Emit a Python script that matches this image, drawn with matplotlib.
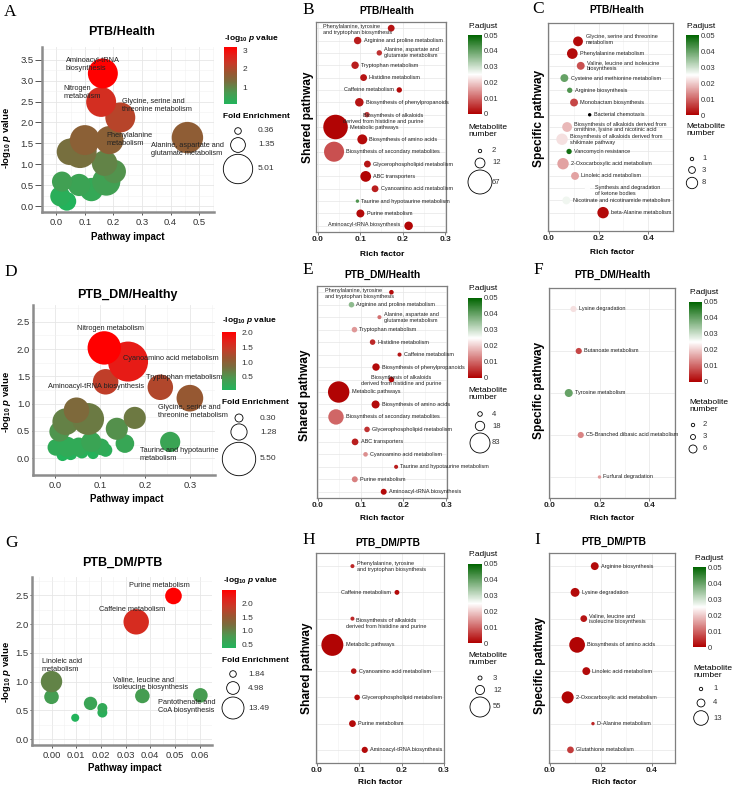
import numpy as np
import matplotlib
matplotlib.use("Agg")
import matplotlib.pyplot as plt
from matplotlib.cm import ScalarMappable
from matplotlib.colors import LinearSegmentedColormap, Normalize

plt.rcParams['font.family'] = ['Liberation Sans', 'DejaVu Sans']
plt.rcParams['mathtext.fontset'] = 'custom'
plt.rcParams['mathtext.rm'] = 'Liberation Sans'
plt.rcParams['mathtext.it'] = 'Liberation Sans:italic:bold'
plt.rcParams['mathtext.bf'] = 'Liberation Sans:bold'
plt.rcParams['mathtext.default'] = 'regular'

W, H = 735, 786

# ---------------- data: topology panels (pathway impact vs -log10 p) ----------------
a_impact = [0.163, 0.157, 0.224, 0.186, 0.459, 0.100, 0.083, 0.048, 0.169, 0.203, 0.175, 0.123, 0.080, 0.020, 0.014, 0.037]
a_logp = [3.17, 2.49, 2.12, 1.58, 1.64, 1.58, 1.31, 1.30, 1.03, 0.83, 0.59, 0.40, 0.51, 0.59, 0.24, 0.12]
a_fe = [5.2, 5.2, 5.2, 4.6, 5.7, 5.2, 6.4, 4.1, 3.8, 3.2, 4.6, 3.2, 2.9, 2.4, 2.4, 2.1]
a_label_names = ["Aminoacyl-tRNA\nbiosynthesis", "Nitrogen\nmetabolism", "Glycine, serine and\nthreonine metabolism",
                 "Phenylalanine\nmetabolism", "Alanine, aspartate and\nglutamate metabolism"]
a_fe_breaks = [0.36, 1.35, 5.01]

d_impact = [0.109, 0.162, 0.112, 0.234, 0.300, 0.047, 0.177, 0.073, 0.023, 0.137, 0.009, 0.256, 0.155,
            0.001, 0.026, 0.052, 0.080, 0.102, 0.112, 0.084, 0.059, 0.034, 0.016]
d_logp = [2.02, 1.77, 1.40, 1.30, 1.10, 0.88, 0.74, 0.72, 0.67, 0.54, 0.49, 0.30, 0.27,
          0.20, 0.21, 0.21, 0.30, 0.21, 0.15, 0.09, 0.12, 0.09, 0.06]
d_fe = [5.5, 7.9, 3.2, 3.2, 3.5, 3.2, 2.4, 5.0, 3.5, 2.4, 2.0, 2.0, 1.7,
        1.35, 2.0, 1.7, 2.0, 1.35, 0.87, 0.62, 0.87, 0.87, 0.7]
d_label_names = ["Nitrogen metabolism", "Cyanoamino acid metabolism", "Aminoacyl-tRNA biosynthesis",
                 "Tryptophan metabolism", "Glycine, serine and\nthreonine metabolism",
                 "Taurine and hypotaurine\nmetabolism"]
d_fe_breaks = [0.30, 1.28, 5.50]

g_impact = [0.0494, 0.0343, 0.0, 0.0, 0.0158, 0.0206, 0.0206, 0.0096, 0.0368, 0.0603]
g_logp = [2.49, 2.04, 1.00, 0.735, 0.62, 0.54, 0.46, 0.37, 0.75, 0.76]
g_fe = [8.0, 17.8, 12.8, 6.3, 5.4, 3.3, 3.3, 2.4, 6.3, 6.3]
g_label_names = ["Purine metabolism", "Caffeine metabolism", "Linoleic acid\nmetabolism",
                 "Valine, leucine and\nisoleucine biosynthesis", "Pantothenate and\nCoA biosynthesis"]
g_fe_breaks = [1.84, 4.98, 13.49]

# ---------------- data: enrichment panels (rich factor per pathway) ----------------
shared_names = ["Phenylalanine, tyrosine\nand tryptophan biosynthesis", "Arginine and proline metabolism",
                "Alanine, aspartate and\nglutamate metabolism", "Tryptophan metabolism", "Histidine metabolism",
                "Caffeine metabolism", "Biosynthesis of phenylpropanoids",
                "Biosynthesis of alkaloids\nderived from histidine and purine", "Metabolic pathways",
                "Biosynthesis of amino acids", "Biosynthesis of secondary metabolites",
                "Glycerophospholipid metabolism", "ABC transporters", "Cyanoamino acid metabolism",
                "Taurine and hypotaurine metabolism", "Purine metabolism", "Aminoacyl-tRNA biosynthesis"]

b_rich = [0.173, 0.094, 0.145, 0.088, 0.108, 0.192, 0.098, 0.116, 0.042, 0.105, 0.0385, 0.117, 0.113, 0.135, 0.0935, 0.1005, 0.214]
b_padj = [0.002, 0.003, 0.005, 0.003, 0.002, 0.001, 0.002, 0.006, 0.0005, 0.001, 0.008, 0.002, 0.0005, 0.003, 0.042, 0.001, 0.0005]
b_count = [6, 7, 4, 7, 6, 4, 9, 4, 70, 12, 47, 6, 14, 6, 2, 8, 9]
b_breaks = [2, 12, 67]

c_names = ["Glycine, serine and threonine\nmetabolism", "Phenylalanine metabolism",
           "Valine, leucine and isoleucine\nbiosynthesis", "Cysteine and methionine metabolism",
           "Arginine biosynthesis", "Monobactam biosynthesis", "Bacterial chemotaxis",
           "Biosynthesis of alkaloids derived from\nornithine, lysine and nicotinic acid",
           "Biosynthesis of alkaloids derived from\nshikimate pathway", "Vancomycin resistance",
           "2-Oxocarboxylic acid metabolism", "Linoleic acid metabolism",
           "Synthesis and degradation\nof ketone bodies", "Nicotinate and nicotinamide metabolism",
           "beta-Alanine metabolism"]
c_rich = [0.117, 0.094, 0.128, 0.062, 0.0835, 0.101, 0.164, 0.073, 0.0525, 0.081, 0.0566, 0.105, 0.155, 0.070, 0.218]
c_padj = [0.001, 0.001, 0.008, 0.040, 0.042, 0.007, np.nan, 0.018, 0.022, 0.048, 0.016, 0.016, 0.025, 0.0265, 0.001]
c_count = [6, 7, 4, 4, 2, 4, 1, 6, 8, 2, 8, 4, 2, 4, 8]
c_breaks = [1, 3, 8]

e_rich = [0.172, 0.0786, 0.144, 0.0856, 0.128, 0.191, 0.136, 0.172, 0.0487, 0.135, 0.0424, 0.115, 0.087, 0.1115, 0.183, 0.0864, 0.154]
e_padj = [0.001, 0.036, 0.011, 0.015, 0.004, 0.002, 0.001, 0.001, 0.0005, 0.001, 0.010, 0.005, 0.003, 0.014, 0.003, 0.0125, 0.001]
e_count = [4, 6, 3, 6, 6, 3, 11, 6, 95, 13, 49, 6, 9, 4, 3, 7, 7]
e_breaks = [4, 18, 83]

f_names = ["Lysine degradation", "Butanoate metabolism", "Tyrosine metabolism",
           "C5-Branched dibasic acid metabolism", "Furfural degradation"]
f_rich = [0.096, 0.117, 0.077, 0.125, 0.200]
f_padj = [0.022, 0.007, 0.040, 0.013, 0.015]
f_count = [4, 4, 6, 4, 2]
f_breaks = [2, 3, 6]

h_names = ["Phenylalanine, tyrosine\nand tryptophan biosynthesis", "Caffeine metabolism",
           "Biosynthesis of alkaloids\nderived from histidine and purine", "Metabolic pathways",
           "Cyanoamino acid metabolism", "Glycerophospholipid metabolism", "Purine metabolism",
           "Aminoacyl-tRNA biosynthesis"]
h_rich = [0.084, 0.189, 0.084, 0.0366, 0.087, 0.095, 0.084, 0.113]
h_padj = [0.004, 0.001, 0.004, 0.0005, 0.002, 0.001, 0.001, 0.001]
h_count = [3, 4, 3, 66, 5, 5, 7, 6]
h_breaks = [3, 12, 55]

i_names = ["Arginine biosynthesis", "Lysine degradation", "Valine, leucine and\nisoleucine biosynthesis",
           "Biosynthesis of amino acids", "Linoleic acid metabolism", "2-Oxocarboxylic acid metabolism",
           "D-Alanine metabolism", "Glutathione metabolism"]
i_rich = [0.176, 0.099, 0.133, 0.107, 0.143, 0.070, 0.169, 0.081]
i_padj = [0.001, 0.001, 0.002, 0.0005, 0.001, 0.0005, 0.004, 0.006]
i_count = [4, 5, 3, 15, 4, 9, 1, 3]
i_breaks = [1, 4, 13]

# ---------------- colours ----------------
logp_cmap = LinearSegmentedColormap.from_list(
    "logp", [(0, "#22b35b"), (0.2, "#4a9a50"), (0.4, "#7a6c3d"), (0.55, "#9a5530"),
             (0.7, "#c43c28"), (0.85, "#e2201a"), (1, "#ff0000")])
padj_cmap = LinearSegmentedColormap.from_list("padj", ["#b00000", "#ffffff", "#006400"])
padj_norm = Normalize(0, 0.05)

fig = plt.figure(figsize=(W / 100, H / 100), dpi=100)
fig.patch.set_facecolor("white")


def pax(x0, y0, x1, y1, **kw):
    # axes from a pixel box (top-left origin)
    return fig.add_axes([x0 / W, 1 - y1 / H, (x1 - x0) / W, (y1 - y0) / H], **kw)


lay = fig.add_axes([0, 0, 1, 1], zorder=20)
lay.set_xlim(0, W)
lay.set_ylim(H, 0)
lay.axis("off")


def radius(v, par):
    c0, c1 = par
    return np.sqrt(np.maximum(c0 + c1 * np.asarray(v, float), 1.0))


LOGP_LABEL = r"-log$_{10}$ $\it{p}$ value"


def bubble_panel(box, impact, logp, fe, par, xlim, ylim, xticks, yticks, xfmt, names, pos, ytick_len):
    ax = pax(*box)
    impact, logp, fe = map(np.asarray, (impact, logp, fe))
    norm = Normalize(logp.min(), logp.max())
    r = radius(fe, par)
    order = np.argsort(logp)
    ax.scatter(impact[order], logp[order], s=(1.44 * r[order]) ** 2, c=logp[order],
               cmap=logp_cmap, norm=norm, edgecolors="none", zorder=3)
    for name, (x, y, ha) in zip(names, pos):
        ax.text(x, y, name, fontsize=5.3, ha=ha, va="center", color="#222222",
                multialignment="left", zorder=5)
    ax.set_xlim(xlim)
    ax.set_ylim(ylim)
    ax.set_xticks(xticks)
    ax.set_xticklabels([xfmt.format(t) for t in xticks])
    ax.set_yticks(yticks)
    ax.set_yticklabels(["{:.1f}".format(t) for t in yticks])
    dx = xticks[1] - xticks[0]
    dy = yticks[1] - yticks[0]
    ax.set_xticks(np.arange(xticks[0] - dx / 2, xlim[1], dx), minor=True)
    ax.set_yticks(np.arange(yticks[0] + dy / 2, ylim[1], dy), minor=True)
    ax.grid(True, which="major", color="#e6e6e6", lw=0.6)
    ax.grid(True, which="minor", color="#f1f1f1", lw=0.4)
    ax.set_axisbelow(True)
    for sp in ("top", "right"):
        ax.spines[sp].set_visible(False)
    for sp in ("left", "bottom"):
        ax.spines[sp].set_color("#8c8c8c")
        ax.spines[sp].set_linewidth(1.8)
    ax.tick_params(which="minor", length=0)
    ax.tick_params(which="major", width=0.7, color="#555555",
                   labelsize=6.8, labelcolor="#333333")
    ax.tick_params(axis="x", which="major", length=2.5, pad=2)
    ax.tick_params(axis="y", which="major", length=ytick_len, pad=1)
    return norm


def logp_legend(norm, bar, ticks, title_xy, fe_title_xy, cx, ys, lx, breaks, par):
    cax = pax(*bar)
    cb = fig.colorbar(ScalarMappable(norm, logp_cmap), cax=cax)
    cb.outline.set_visible(False)
    cb.set_ticks(ticks)
    cb.set_ticklabels(["{:g}".format(t) if float(t).is_integer() and len(ticks) == 3 else "{:.1f}".format(t)
                       for t in ticks])
    cax.tick_params(length=0, pad=4, labelsize=6, labelcolor="#333333")
    lay.text(title_xy[0], title_xy[1], LOGP_LABEL, fontsize=6, fontweight="bold", ha="left", va="center")
    lay.text(fe_title_xy[0], fe_title_xy[1], "Fold Enrichment", fontsize=6, fontweight="bold",
             ha="left", va="center")
    r = radius(breaks, par)
    lay.scatter([cx] * len(breaks), ys, s=(1.44 * r) ** 2, facecolors="white",
                edgecolors="black", linewidths=0.6, clip_on=False)
    for y, b in zip(ys, breaks):
        lay.text(lx, y, "{:.2f}".format(b), fontsize=6, ha="left", va="center", color="#333333")


def rich_panel(box, names, rich, padj, count, par, xlim, ylim, xticks, overrides):
    ax = pax(*box)
    rich = np.asarray(rich, float)
    rows = np.arange(1, len(names) + 1)
    cols = ["black" if np.isnan(p) else padj_cmap(padj_norm(p)) for p in padj]
    r = radius(count, par)
    ax.scatter(rich, rows, s=(1.44 * r) ** 2, c=cols, edgecolors="none", zorder=3)
    for i, name in enumerate(names):
        if i in overrides:
            x, y, ha = overrides[i]
            ax.text(x, y, name, fontsize=4, ha=ha, va="center", multialignment=ha,
                    color="#222222", zorder=5)
        else:
            ax.annotate(name, (rich[i], rows[i]), xytext=((r[i] + 2.2) * 0.72, 0),
                        textcoords="offset points", fontsize=4, ha="left", va="center",
                        color="#222222", zorder=5)
    ax.set_xlim(xlim)
    ax.set_ylim(ylim)
    ax.set_yticks(rows)
    ax.set_yticklabels([])
    ax.set_xticks(xticks)
    ax.set_xticklabels(["{:.1f}".format(t) for t in xticks], fontweight="bold")
    dx = xticks[1] - xticks[0]
    ax.set_xticks(np.arange(xticks[0] + dx / 2, xlim[1], dx), minor=True)
    ax.grid(True, which="major", color="#e6e6e6", lw=0.5)
    ax.grid(True, which="minor", axis="x", color="#f0f0f0", lw=0.4)
    ax.set_axisbelow(True)
    for sp in ax.spines.values():
        sp.set_color("#7f7f7f")
        sp.set_linewidth(0.9)
    ax.tick_params(axis="y", length=0)
    ax.tick_params(axis="x", which="minor", length=0)
    ax.tick_params(axis="x", which="major", length=2, width=0.6, color="#666666",
                   labelsize=6, labelcolor="#222222", pad=1.2)
    return ax


def padj_legend(title_xy, bar, meta_xy, cx, ys, lx, breaks, par):
    cax = pax(*bar)
    cb = fig.colorbar(ScalarMappable(padj_norm, padj_cmap), cax=cax)
    cb.outline.set_visible(False)
    ticks = [0, 0.01, 0.02, 0.03, 0.04, 0.05]
    cb.set_ticks(ticks)
    cb.set_ticklabels(["0"] + ["{:.2f}".format(t) for t in ticks[1:]])
    cax.tick_params(length=0, pad=1.5, labelsize=5.5, labelcolor="#333333")
    lay.text(title_xy[0], title_xy[1], "P.adjust", fontsize=6, ha="left", va="center")
    lay.text(meta_xy[0], meta_xy[1], "Metabolite\nnumber", fontsize=6, ha="left", va="center",
             linespacing=1.1)
    r = radius(breaks, par)
    lay.scatter([cx] * len(breaks), ys, s=(1.44 * r) ** 2, facecolors="white",
                edgecolors="black", linewidths=0.6, clip_on=False)
    for y, b in zip(ys, breaks):
        lay.text(lx, y, str(b), fontsize=5.5, ha="left", va="center", color="#333333")


# ---------------- panel A ----------------
na = bubble_panel((42, 47, 214, 212), a_impact, a_logp, a_fe, (-5, 44.1),
                  (-0.044, 0.552), (-0.135, 3.80), [0, 0.1, 0.2, 0.3, 0.4, 0.5],
                  [0, 0.5, 1, 1.5, 2, 2.5, 3, 3.5], "{:.1f}", a_label_names,
                  [(0.034, 3.38, "left"), (0.025, 2.72, "left"), (0.229, 2.41, "left"),
                   (0.177, 1.60, "left"), (0.33, 1.35, "left")], 5)
logp_legend(na, (224, 47, 237, 104), [1, 2, 3], (224, 38), (223, 117), 238, [131, 145, 169], 258,
            a_fe_breaks, (-5, 44.1))

# ---------------- panel D ----------------
nd = bubble_panel((33, 305, 215, 475), d_impact, d_logp, d_fe, (0.8, 50.6),
                  (-0.034, 0.356), (-0.305, 2.805), [0, 0.1, 0.2, 0.3],
                  [0, 0.5, 1, 1.5, 2, 2.5], "{:.1f}", d_label_names,
                  [(0.122, 2.38, "center"), (0.150, 1.82, "left"), (-0.016, 1.31, "left"),
                   (0.202, 1.48, "left"), (0.229, 0.85, "left"), (0.188, 0.07, "left")], 1)
logp_legend(nd, (222, 332, 236, 390), [0.5, 1.0, 1.5, 2.0], (222, 320), (222, 403), 239,
            [418, 432, 459], 260, d_fe_breaks, (0.8, 50.6))

# ---------------- panel G ----------------
ng = bubble_panel((32, 577, 212, 745), g_impact, g_logp, g_fe, (-6.5, 9.45),
                  (-0.0079, 0.065), (-0.104, 2.82), [0, 0.01, 0.02, 0.03, 0.04, 0.05, 0.06],
                  [0, 0.5, 1, 1.5, 2, 2.5], "{:.2f}", g_label_names,
                  [(0.0312, 2.67, "left"), (0.0194, 2.26, "left"), (-0.004, 1.28, "left"),
                   (0.025, 0.97, "left"), (0.0433, 0.56, "left")], 1.5)
logp_legend(ng, (222, 590, 236, 648), [0.5, 1.0, 1.5, 2.0], (223, 580), (222, 661), 233,
            [674, 688, 708], 248, g_fe_breaks, (-6.5, 9.45))

# ---------------- panels B, C, E, F, H, I ----------------
rich_panel((316, 22, 446, 232), shared_names, b_rich, b_padj, b_count, (-1.4, 2.17),
           (-0.004, 0.302), (17.5, 0.5), [0, 0.1, 0.2, 0.3],
           {0: (0.012, 1.08, "left"), 5: (0.180, 6.0, "right"), 7: (0.249, 8.3, "right"),
            16: (0.194, 16.92, "right")})
padj_legend((468, 26), (468, 35, 482, 114), (468, 131), 480, [151, 163, 182], 492, b_breaks, (-1.4, 2.17))

rich_panel((548, 23, 673, 231), c_names, c_rich, c_padj, c_count, (-1.33, 4.23),
           (-0.004, 0.5), (16.5, -0.5), [0, 0.2, 0.4],
           {0: (0.148, 0.84, "left"), 12: (0.184, 13.16, "left")})
padj_legend((686, 26), (686, 35, 699, 115), (686, 130), 692, [159, 170, 183], 702, c_breaks, (-1.33, 4.23))

rich_panel((317, 286, 447, 498), shared_names, e_rich, e_padj, e_count, (0.5, 1.2),
           (-0.002, 0.302), (17.5, 0.5), [0, 0.1, 0.2, 0.3],
           {0: (0.017, 1.08, "left"), 7: (0.194, 8.1, "center")})
padj_legend((468, 288), (468, 298, 482, 378), (468, 394), 480, [414, 426, 443], 492, e_breaks, (0.5, 1.2))

rich_panel((549, 288, 675, 498), f_names, f_rich, f_padj, f_count, (-3.7, 3.3),
           (-0.002, 0.502), (5.5, 0.5), [0, 0.2, 0.4], {})
padj_legend((689, 292), (689, 302, 702, 382), (689, 406), 693, [425, 437, 449], 703, f_breaks, (-3.7, 3.3))

rich_panel((316, 553, 444, 763), h_names, h_rich, h_padj, h_count, (-1.5, 1.85),
           (-0.002, 0.3), (8.5, 0.5), [0, 0.1, 0.2, 0.3],
           {1: (0.175, 2.0, "right"), 2: (0.164, 3.2, "center")})
padj_legend((468, 554), (468, 564, 482, 643), (468, 659), 480, [678, 690, 707], 493, h_breaks, (-1.5, 1.85))

rich_panel((549, 553, 675, 763), i_names, i_rich, i_padj, i_count, (-1.3, 4.2),
           (-0.003, 0.49), (8.5, 0.5), [0, 0.2, 0.4], {})
padj_legend((694, 558), (693, 567, 706, 647), (693, 672), 701, [689, 703, 718], 713, i_breaks, (-1.3, 4.2))

# ---------------- titles, axis labels, panel letters ----------------
for x, y, t in [(122, 32, "PTB/Health"), (127, 295, "PTB_DM/Healthy"), (122, 563, "PTB_DM/PTB")]:
    lay.text(x, y, t, fontsize=9, fontweight="bold", ha="center", va="center")
for x, y, t in [(387, 11, "PTB/Health"), (617, 10, "PTB/Health"), (383, 275, "PTB_DM/Health"),
                (613, 275, "PTB_DM/Health"), (388, 543, "PTB_DM/PTB"), (614, 542, "PTB_DM/PTB")]:
    lay.text(x, y, t, fontsize=7.4, fontweight="bold", ha="center", va="center")

for x, y in [(128, 237), (127, 499), (125, 768)]:
    lay.text(x, y, "Pathway impact", fontsize=7, fontweight="bold", ha="center", va="center")
for y in [138, 402, 672]:
    lay.text(7, y, LOGP_LABEL, fontsize=6.8, fontweight="bold", ha="center", va="center", rotation=90)

for x, y in [(382, 254), (612, 252), (382, 519), (612, 519), (380, 782), (614, 782)]:
    lay.text(x, y, "Rich factor", fontsize=6, fontweight="bold", ha="center", va="center")
for x, y, t in [(308, 117, "Shared pathway"), (539, 118, "Specific pathway"),
                (305, 395, "Shared pathway"), (539, 390, "Specific pathway"),
                (307, 668, "Shared pathway"), (540, 665, "Specific pathway")]:
    lay.text(x, y, t, fontsize=8.6, fontweight="bold", ha="center", va="center", rotation=90)

for x, y, t in [(10, 12, "A"), (308, 10, "B"), (538, 9, "C"), (11, 272, "D"), (308, 270, "E"),
                (538, 270, "F"), (12, 543, "G"), (309, 540, "H"), (537, 540, "I")]:
    lay.text(x, y, t, fontsize=12.5, family="Liberation Serif", ha="center", va="center")

fig.savefig("out.png", dpi=100, facecolor="white")
